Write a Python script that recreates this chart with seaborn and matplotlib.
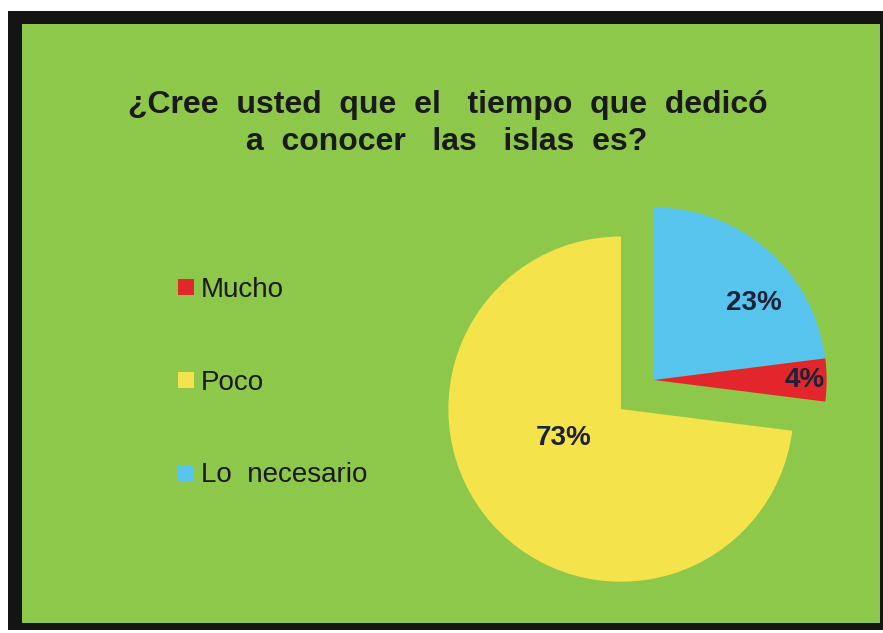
import matplotlib
matplotlib.use("Agg")
import matplotlib.pyplot as plt
from matplotlib.patches import Rectangle
from matplotlib.lines import Line2D
import numpy as np
import seaborn as sns

# data
categories = ["Mucho", "Poco", "Lo necesario"]
percents = [4, 73, 23]
slice_colors = ["#e3262b", "#f4e34a", "#56c4ec"]
legend_labels = ["Mucho", "Poco", "Lo  necesario"]

# pie order (clockwise from 12 o'clock): Lo necesario, Mucho, Poco
pie_order = ["Lo necesario", "Mucho", "Poco"]
explode_by = {"Lo necesario": 0.0, "Mucho": 0.0, "Poco": 0.255}
# label placement: radial distance and angle nudge (degrees) per slice
label_r = {"Lo necesario": 0.73, "Mucho": 0.87, "Poco": 0.37}
label_shift = {"Lo necesario": -11, "Mucho": 0, "Poco": -15}

sns.set_theme(style="white")
plt.rcParams["font.family"] = ["Liberation Sans", "DejaVu Sans"]

W, H = 883, 633
fig = plt.figure(figsize=(W / 100, H / 100), dpi=100)
fig.patch.set_facecolor("white")


def px(x, y, w, h):
    # top-left pixel box -> figure fraction rect
    return (x / W, 1 - (y + h) / H, w / W, h / H)


bx = px(8, 11, 875, 619)
fig.patches.append(Rectangle(bx[:2], bx[2], bx[3], transform=fig.transFigure,
                             facecolor="#141414", edgecolor="none", zorder=-2))
gx = px(22, 24, 858, 599)
fig.patches.append(Rectangle(gx[:2], gx[2], gx[3], transform=fig.transFigure,
                             facecolor="#8dc84b", edgecolor="none", zorder=-1))

# pie axes: center at (654, 380) px, radius 166 px
R = 166
span = 1.3
cx, cy = 654, 380
ax = fig.add_axes(px(cx - span * R, cy - span * R, 2 * span * R, 2 * span * R))
ax.set_xlim(-span, span)
ax.set_ylim(-span, span)
ax.set_aspect("equal")
ax.axis("off")
ax.patch.set_alpha(0)

vals = [percents[categories.index(c)] for c in pie_order]
cols = [slice_colors[categories.index(c)] for c in pie_order]
wedges, _ = ax.pie(vals, colors=cols, startangle=90, counterclock=False,
                   explode=[explode_by[c] for c in pie_order],
                   wedgeprops=dict(linewidth=0), radius=1)

for w, c, v in zip(wedges, pie_order, vals):
    mid = np.deg2rad((w.theta1 + w.theta2) / 2 + label_shift[c])
    x0, y0 = w.center
    ax.text(x0 + label_r[c] * np.cos(mid), y0 + label_r[c] * np.sin(mid),
            f"{v}%", ha="center", va="center", fontsize=20,
            fontweight="bold", color="#1d2238")

# title, two lines on their own baselines
fig.text(448 / W, 1 - 113 / H, "¿Cree  usted  que  el   tiempo  que  dedicó",
         ha="center", va="baseline", fontsize=23, fontweight="bold",
         color="#1a1a1a")
fig.text(447 / W, 1 - 150 / H, "a  conocer   las   islas  es?",
         ha="center", va="baseline", fontsize=23, fontweight="bold",
         color="#1a1a1a")

handles = [Line2D([], [], marker="s", linestyle="", markersize=11,
                  markerfacecolor=col, markeredgewidth=0)
           for col in slice_colors]
fig.legend(handles, legend_labels, loc="upper left",
           bbox_to_anchor=(174.5 / W, 1 - 277 / H), frameon=False,
           fontsize=20, labelspacing=2.4, handlelength=0.8,
           handletextpad=0.15, borderpad=0, borderaxespad=0,
           labelcolor="#1a1a1a")

fig.savefig("out.png", dpi=100, facecolor=fig.get_facecolor())
